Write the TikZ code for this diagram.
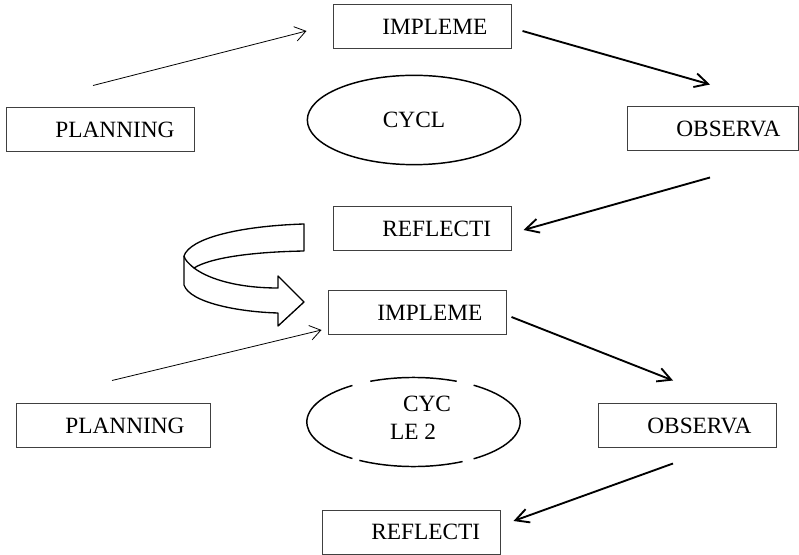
\documentclass[tikz,border=0pt]{standalone}
\usepackage{fontspec}
\setmainfont{Liberation Serif}
\usetikzlibrary{arrows.meta,shapes.geometric,calc}

\begin{document}
\begin{tikzpicture}[
    x=0.75pt, y=-0.75pt,
    font=\fontsize{17.5pt}{20.6pt}\selectfont,
    stage/.style={draw=black!75, line width=0.75pt, minimum height=33pt,
        inner xsep=0pt, text width=#1, align=left,
        execute at begin node=\hspace*{37pt}},
    stage/.default=133.5pt,
    cyclering/.style={ellipse, minimum width=160pt, minimum height=67pt, inner sep=0pt},
    thinarrow/.style={-{Straight Barb[length=8pt,width=11pt]}, line width=0.6pt},
    thickarrow/.style={-{Straight Barb[length=10pt,width=10.5pt]}, line width=1.4pt}
]
\useasboundingbox (0,0) rectangle (799,555);

% cycle 1
\node[stage=141pt]    (plan1) at (100,130)   {PLANNING};
\node[stage]          (impl1) at (422,27)    {IMPLEME};
\node[stage=128.25pt] (obs1)  at (712.5,129) {OBSERVA};
\node[stage]          (refl1) at (422,229)   {REFLECTI};
\node[cyclering, draw, line width=1.1pt] (cyc1) at (414,120) {CYCL};

\draw[thinarrow]  ($(plan1.north)+(-7,-22)$) -- ($(impl1.west)+(-26,4)$);
\draw[thickarrow] ($(impl1.east)+(11,4)$) -- ($(obs1.north)+(-2.5,-22)$);
\draw[thickarrow] ($(obs1.south)+(-2.5,26)$) -- ($(refl1.east)+(12,1)$);

% turn-over arrow
\draw[line width=1pt, fill=white, line join=round]
  (304,224) .. controls (240,226) and (190,238) .. (184,256)
  -- (184,285) .. controls (190,303) and (240,312) .. (278,313)
  -- (278,326) -- (304,302) -- (278,276) -- (278,288)
  .. controls (240,288) and (210,280) .. (194,268)
  .. controls (210,258) and (250,252) .. (304,251) -- cycle;
\draw[line width=1pt] (194,268) .. controls (188,263) and (185,260) .. (184,256);

% cycle 2
\node[stage=145.5pt] (plan2) at (113,426) {PLANNING};
\node[stage]         (impl2) at (417,313) {IMPLEME};
\node[stage]         (obs2)  at (687,426) {OBSERVA};
\node[stage]         (refl2) at (411,532) {REFLECTI};
\node[cyclering]     (cyc2)  at (413.5,422) {};
\node[align=left]    (cyc2txt) at (420.5,418) {\hspace*{9.75pt}CYC\\LE 2};

% broken outline of the second ellipse
\foreach \a/\b in {-55.7/55.7, -120.5/-62.6, 124.9/235.1, 66.1/113.9}
  \draw[line width=1.1pt] ([shift={(\a:80pt and 33.4pt)}]cyc2.center)
    arc[start angle=\a, end angle=\b, x radius=80pt, y radius=33.4pt];

\draw[thinarrow]  ($(plan2.north)+(-1,-23)$) -- ($(impl2.west)+(-6,17)$);
\draw[thickarrow] ($(impl2.east)+(5,4)$) -- ($(obs2.north)+(-14,-23)$);
\draw[thickarrow] ($(obs2.south)+(-14,15)$) -- ($(refl2.east)+(13,-11)$);

\end{tikzpicture}
\end{document}
